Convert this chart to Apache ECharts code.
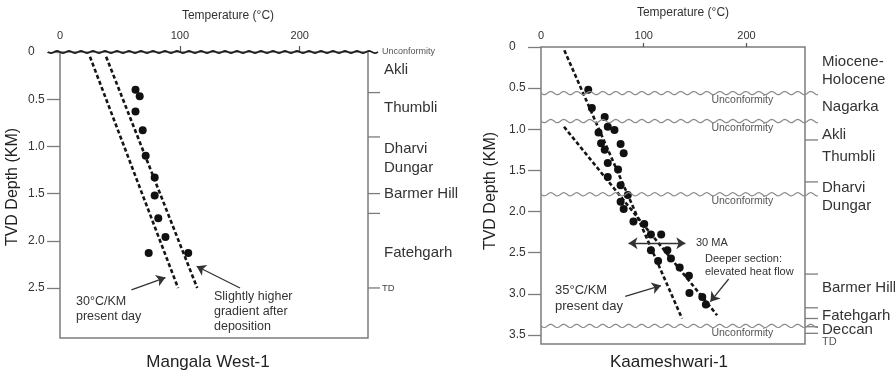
<!DOCTYPE html>
<html>
<head>
<meta charset="utf-8">
<script src="https://cdn.jsdelivr.net/npm/echarts@6/dist/echarts.min.js"></script>
<style>
  html, body { margin: 0; padding: 0; background: #fff; }
  #chart { width: 895px; height: 373px; }
</style>
</head>
<body>
<div id="chart"></div>
<script>
// ---------- Mangala West-1 ----------
// measured temperatures (°C) and true vertical depths (km)
const mwTemp  = [63, 66.5, 63, 69, 71.5, 79, 79, 82, 88, 74, 107];
const mwDepth = [0.40, 0.47, 0.63, 0.83, 1.10, 1.33, 1.52, 1.76, 1.96, 2.13, 2.13];
// gradient lines: [temperature, depth] end points
const mwPresentGradient = [[25, 0.05], [98.5, 2.5]];
const mwPostDepGradient = [[38.5, 0.05], [114.5, 2.5]];
// formations (label depth) and boundaries
const mwFormNames  = ['Akli', 'Thumbli', 'Dharvi\nDungar', 'Barmer Hill', 'Fatehgarh'];
const mwFormDepths = [0.19, 0.59, 1.13, 1.50, 2.13];
const mwBoundaries = [0.43, 0.90, 1.50, 1.71, 2.50];
const mwUnconformities = [0];
const mwTD = 2.5;
const mwDepthTicks = [0, 0.5, 1.0, 1.5, 2.0, 2.5];
// annotation arrows: [from, to] in [temperature, depth]
const mwArrows = [
  [[59.6, 2.52], [88, 2.39]],
  [[150.2, 2.50], [114, 2.27]]
];

// ---------- Kaameshwari-1 ----------
const kmTemp  = [46, 49.5, 62, 65, 71.5, 56, 58.5, 62, 77.5, 80.5, 65, 75, 65, 77.5, 84.5, 77.5, 80.5,
                 90, 100.5, 107, 117, 107, 123, 126.5, 114, 135, 144, 144.5, 157, 160.5];
const kmDepth = [0.52, 0.74, 0.85, 0.97, 1.01, 1.04, 1.17, 1.25, 1.18, 1.29, 1.41, 1.49, 1.58, 1.68, 1.80, 1.88, 1.97,
                 2.12, 2.15, 2.28, 2.28, 2.47, 2.47, 2.57, 2.60, 2.68, 2.78, 2.99, 3.04, 3.13];
const kmPresentGradient = [[22.7, 0.04], [137.3, 3.30]];
const kmDeepGradient    = [[22.4, 0.97], [171.4, 3.26]];
const kmFormNames  = ['Miocene-\nHolocene', 'Nagarka', 'Akli', 'Thumbli', 'Dharvi\nDungar', 'Barmer Hill', 'Fatehgarh', 'Deccan'];
const kmFormDepths = [0.29, 0.73, 1.07, 1.34, 1.82, 2.93, 3.27, 3.44];
const kmBoundaries = [1.13, 1.64, 2.76, 3.17, 3.30, 3.40, 3.48];
const kmUnconformities = [0.56, 0.90, 1.79, 3.39];
const kmTD = 3.59;
const kmDepthTicks = [0, 0.5, 1.0, 1.5, 2.0, 2.5, 3.0, 3.5];
const kmArrows = [
  [[182.7, 2.82], [164.9, 3.095]],
  [[82, 3.03], [116.8, 2.90]]
];
const kmDoubleArrow = [[85.2, 2.385], [140.5, 2.385]];

// shared temperature axis
const tempTicks = [0, 100, 200];
const TEMP_MAX = 257;

const FONT = "'Liberation Sans', Arial, Helvetica, sans-serif";
const TXT = '#333';
const FRAME = '#7c7c7c';

function pairs(xs, ys) { return xs.map((x, i) => [x, ys[i]]); }

function xAxisFor(grid, offset, tickLen, margin) {
  return {
    gridIndex: grid, type: 'value', position: 'top', min: 0, max: TEMP_MAX, offset: offset,
    axisLine: { show: false }, splitLine: { show: false },
    axisTick: { show: true, length: tickLen, customValues: [100, 200], lineStyle: { color: '#555', width: 1.2 } },
    axisLabel: { customValues: tempTicks, margin: margin, color: TXT, fontSize: 11, fontFamily: FONT }
  };
}
function yAxisFor(grid, max, ticks) {
  return {
    gridIndex: grid, type: 'value', inverse: true, min: 0, max: max,
    axisLine: { show: false }, splitLine: { show: false },
    axisTick: { show: true, length: 13, customValues: ticks, lineStyle: { color: FRAME, width: 1.3 } },
    axisLabel: {
      customValues: ticks, margin: 32, align: 'left', color: TXT, fontSize: 12, fontFamily: FONT,
      formatter: v => (v === 0 ? '0' : v.toFixed(1))
    }
  };
}

function scatterFor(idx, data, arrows, extraMarks) {
  const lines = arrows.map(a => [{ coord: a[0] }, { coord: a[1] }]).concat(extraMarks || []);
  return {
    type: 'scatter', xAxisIndex: idx, yAxisIndex: idx, data: data, symbolSize: 8, z: 4,
    itemStyle: { color: '#111', opacity: 1 }, silent: true,
    markLine: {
      silent: true, symbol: ['none', 'arrow'], symbolSize: 9, animation: false,
      lineStyle: { color: '#333', width: 1.3, type: 'solid' }, label: { show: false },
      emphasis: { disabled: true },
      data: lines
    }
  };
}

function gradientLine(idx, pts) {
  return {
    type: 'line', xAxisIndex: idx, yAxisIndex: idx, data: pts, symbol: 'none', silent: true, z: 3,
    lineStyle: { color: '#151515', width: 2.6, type: [4, 2.5] }
  };
}

// wavy unconformity line across the section, with its caption
function unconformities(idx, depths, opt) {
  return {
    type: 'custom', xAxisIndex: idx, yAxisIndex: idx, silent: true, clip: false, z: 6,
    data: depths.map(d => [0, d]),
    renderItem(params, api) {
      const d = api.value(1);
      const a = api.coord([0, d]), b = api.coord([TEMP_MAX, d]);
      const pts = [];
      for (let x = a[0] - opt.extL; x <= b[0] + opt.extR; x += 1) {
        pts.push([x, a[1] + opt.amp * Math.sin((x - a[0]) * 2 * Math.PI / opt.period)]);
      }
      const children = [{
        type: 'polyline', shape: { points: pts },
        style: { stroke: opt.color, lineWidth: opt.width, fill: null }
      }];
      const lx = opt.labelAt === 'end' ? b[0] + opt.extR + 4 : api.coord([opt.labelAt, d])[0];
      children.push({
        type: 'text', x: lx, y: a[1] + opt.labelDy,
        style: {
          text: 'Unconformity', fill: '#555', font: opt.labelSize + 'px ' + FONT,
          align: opt.labelAt === 'end' ? 'left' : 'center', verticalAlign: 'middle'
        }
      });
      return { type: 'group', children: children };
    }
  };
}

// short boundary ticks outside the right frame edge
function boundaryTicks(idx, depths, len) {
  return {
    type: 'custom', xAxisIndex: idx, yAxisIndex: idx, silent: true, clip: false, z: 5,
    data: depths.map(d => [TEMP_MAX, d]),
    renderItem(params, api) {
      const p = api.coord([TEMP_MAX, api.value(1)]);
      return {
        type: 'line', shape: { x1: p[0], y1: p[1], x2: p[0] + len, y2: p[1] },
        style: { stroke: FRAME, lineWidth: 1.3 }
      };
    }
  };
}

// formation names to the right of the frame
function formationLabels(idx, names, depths, dx, size, color, lh) {
  return {
    type: 'custom', xAxisIndex: idx, yAxisIndex: idx, silent: true, clip: false, z: 5,
    data: depths.map(d => [TEMP_MAX, d]),
    renderItem(params, api) {
      const p = api.coord([TEMP_MAX, api.value(1)]);
      return {
        type: 'text', x: p[0] + dx, y: p[1],
        style: {
          text: names[params.dataIndex], fill: color, font: size + 'px ' + FONT,
          align: 'left', verticalAlign: 'middle', lineHeight: lh
        }
      };
    }
  };
}

function label(text, x, y, size, opts) {
  return Object.assign({
    type: 'text', x: x, y: y, silent: true,
    style: { text: text, fill: TXT, font: size + 'px ' + FONT, align: 'left', verticalAlign: 'middle', lineHeight: Math.round(size * 1.22) }
  }, opts || {});
}

const chart = echarts.init(document.getElementById('chart'), null, { renderer: 'canvas' });

chart.setOption({
  backgroundColor: '#fff',
  animation: false,
  grid: [
    { left: 60, top: 52, width: 308, height: 286, show: true, borderColor: FRAME, borderWidth: 1.5, backgroundColor: 'transparent' },
    { left: 541, top: 47, width: 264, height: 297, show: true, borderColor: FRAME, borderWidth: 1.5, backgroundColor: 'transparent' }
  ],
  xAxis: [xAxisFor(0, 5, 6, 6), xAxisFor(1, 3, 4, 3)],
  yAxis: [yAxisFor(0, 3.03, mwDepthTicks), yAxisFor(1, 3.61, kmDepthTicks)],
  series: [
    gradientLine(0, mwPresentGradient),
    gradientLine(0, mwPostDepGradient),
    scatterFor(0, pairs(mwTemp, mwDepth), mwArrows),
    unconformities(0, mwUnconformities, { extL: 12, extR: 10, amp: 1.1, period: 12, color: '#1e1e1e', width: 1.8, labelAt: 'end', labelDy: 0, labelSize: 9 }),
    boundaryTicks(0, mwBoundaries, 12),
    formationLabels(0, mwFormNames, mwFormDepths, 16, 15, TXT, 19),
    formationLabels(0, ['TD'], [mwTD], 14, 9.5, '#444', 11),

    gradientLine(1, kmPresentGradient),
    gradientLine(1, kmDeepGradient),
    scatterFor(1, pairs(kmTemp, kmDepth), kmArrows,
      [[{ coord: kmDoubleArrow[0], symbol: 'arrow' }, { coord: kmDoubleArrow[1], symbol: 'arrow' }]]),
    unconformities(1, kmUnconformities, { extL: 0, extR: 13, amp: 1.6, period: 13, color: '#8a8a8a', width: 1.2, labelAt: 196, labelDy: 7, labelSize: 10.5 }),
    boundaryTicks(1, kmBoundaries, 13),
    formationLabels(1, kmFormNames, kmFormDepths, 17, 15, TXT, 18.5),
    formationLabels(1, ['TD'], [kmTD], 17, 11, '#555', 12)
  ],
  graphic: [
    label('Temperature (°C)', 228, 16, 12, { style: { text: 'Temperature (°C)', fill: TXT, font: '12px ' + FONT, align: 'center', verticalAlign: 'middle' } }),
    label('Temperature (°C)', 683, 13, 12, { style: { text: 'Temperature (°C)', fill: TXT, font: '12px ' + FONT, align: 'center', verticalAlign: 'middle' } }),
    { type: 'text', x: 13, y: 187, rotation: Math.PI / 2, silent: true,
      style: { text: 'TVD Depth (KM)', fill: '#222', font: '16px ' + FONT, align: 'center', verticalAlign: 'middle' } },
    { type: 'text', x: 491, y: 191, rotation: Math.PI / 2, silent: true,
      style: { text: 'TVD Depth (KM)', fill: '#222', font: '16px ' + FONT, align: 'center', verticalAlign: 'middle' } },
    { type: 'text', x: 208, y: 362, silent: true,
      style: { text: 'Mangala West-1', fill: '#222', font: '17px ' + FONT, align: 'center', verticalAlign: 'middle' } },
    { type: 'text', x: 669, y: 362, silent: true,
      style: { text: 'Kaameshwari-1', fill: '#222', font: '17px ' + FONT, align: 'center', verticalAlign: 'middle' } },
    label('30°C/KM\npresent day', 76, 309.5, 12.5),
    label('Slightly higher\ngradient after\ndeposition', 214, 311.7, 12.5),
    label('30 MA', 696, 243, 11),
    label('Deeper section:\nelevated heat flow', 705, 265.3, 11),
    label('35°C/KM\npresent day', 555, 298, 13)
  ]
});
</script>
</body>
</html>
